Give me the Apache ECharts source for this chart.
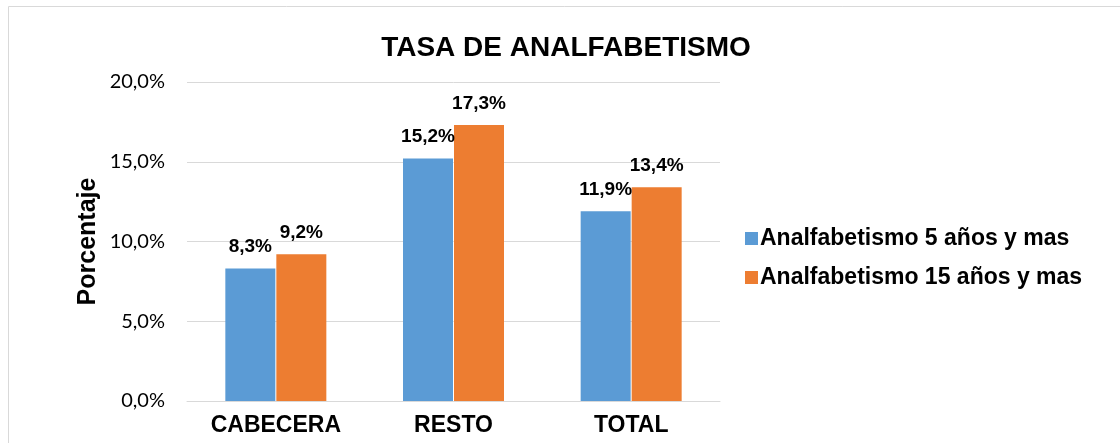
<!DOCTYPE html>
<html><head><meta charset="utf-8">
<script src="https://cdn.jsdelivr.net/npm/echarts@6/dist/echarts.min.js"></script>
<style>html,body{margin:0;padding:0;background:#fff}#c{width:1120px;height:443px}</style>
</head><body><div id="c"></div>
<script>
const categories = ['CABECERA', 'RESTO', 'TOTAL'];
const seriesNames = ['Analfabetismo 5 años y mas', 'Analfabetismo 15 años y mas'];
const values5 = [8.3, 15.2, 11.9];
const values15 = [9.2, 17.3, 13.4];
const colors = ['#5b9bd5', '#ed7d31'];
const fmt = v => v.toFixed(1).replace('.', ',') + '%';

const chart = echarts.init(document.getElementById('c'));
chart.setOption({
  animation: false,
  title: {
    text: 'TASA DE ANALFABETISMO', left: 561, top: 29, textAlign: 'center',
    textStyle: { fontFamily: 'Liberation Sans', fontWeight: 'bold', fontSize: 28, color: '#000' }
  },
  graphic: [{
    type: 'polyline', shape: { points: [[8.5, 443], [8.5, 6.5], [1120, 6.5]] },
    style: { stroke: '#d9d9d9', lineWidth: 1, fill: null }, silent: true
  }],
  legend: {
    orient: 'vertical', left: 740, top: 222, itemWidth: 13, itemHeight: 13, itemGap: 16,
    icon: 'rect',
    textStyle: { fontFamily: 'Liberation Sans', fontWeight: 'bold', fontSize: 23, color: '#000', padding: [0,0,0,-3] },
    data: seriesNames
  },
  grid: { left: 187, right: 400, top: 82, bottom: 42 },
  xAxis: {
    type: 'category', data: categories,
    axisLine: { lineStyle: { color: '#d9d9d9', width: 1 } },
    axisTick: { show: false },
    axisLabel: { fontFamily: 'Liberation Sans', fontWeight: 'bold', fontSize: 23, color: '#000', margin: 13 }
  },
  yAxis: {
    type: 'value', min: 0, max: 20, interval: 5,
    name: 'Porcentaje', nameLocation: 'middle', nameGap: 86, nameRotate: 90,
    nameTextStyle: { fontFamily: 'Liberation Sans', fontWeight: 'bold', fontSize: 25, color: '#000' },
    axisLine: { show: false }, axisTick: { show: false },
    axisLabel: { formatter: fmt, fontFamily: 'Lato', fontSize: 20, color: '#000', margin: 22 },
    splitLine: { lineStyle: { color: '#d9d9d9', width: 1 } }
  },
  series: [
    { name: seriesNames[0], type: 'bar', data: values5, barWidth: 50, barGap: '2%',
      itemStyle: { color: colors[0] },
      label: { show: true, position: 'top', formatter: p => fmt(p.value), distance: 12,
        fontFamily: 'Liberation Sans', fontWeight: 'bold', fontSize: 19, color: '#000' } },
    { name: seriesNames[1], type: 'bar', data: values15, barWidth: 50,
      itemStyle: { color: colors[1] },
      label: { show: true, position: 'top', formatter: p => fmt(p.value), distance: 12,
        fontFamily: 'Liberation Sans', fontWeight: 'bold', fontSize: 19, color: '#000' } }
  ]
});
</script></body></html>
